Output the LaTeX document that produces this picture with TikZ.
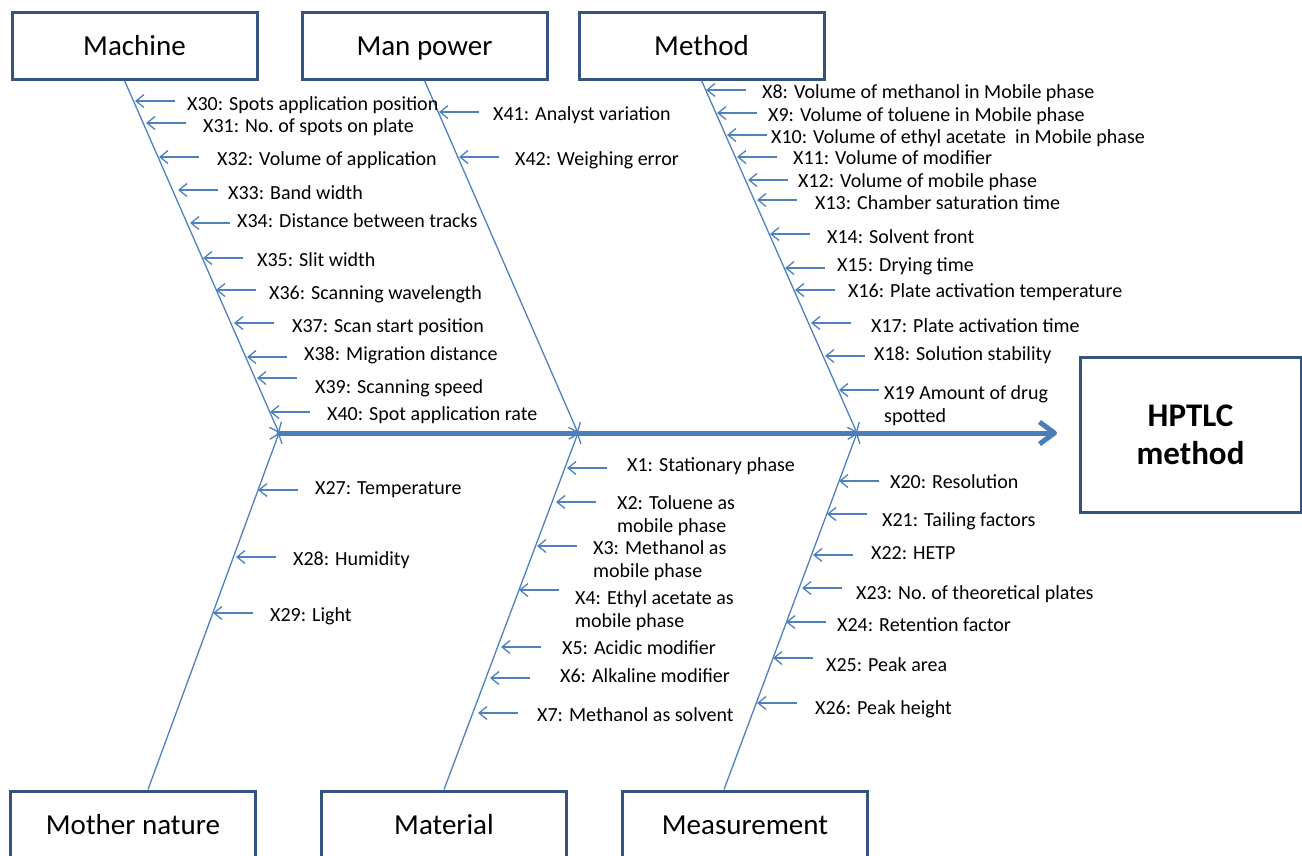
\documentclass[tikz,border=0pt]{standalone}
\usepackage{fontspec}
\setmainfont{Carlito}
\usetikzlibrary{arrows.meta}
\definecolor{bonecol}{HTML}{4F81BD}
\definecolor{spinecol}{HTML}{4A7EBB}
\definecolor{boxline}{HTML}{34547D}

\begin{document}
\begin{tikzpicture}[x=1pt,y=-1pt]
        \tikzset{>={Straight Barb[length=8pt,width=13pt]}}
        \tikzstyle{catbox}=[draw=boxline,line width=3pt,fill=white,minimum width=245pt,minimum height=67pt,inner sep=0pt,text height=20pt,text depth=0pt,font=\fontsize{29}{34}\selectfont]
        \tikzstyle{cause}=[anchor=base west,inner sep=0pt,align=left,font=\fontsize{20}{23}\selectfont]
        \tikzstyle{bone}=[->,draw=bonecol,line width=1.3pt]
        \tikzstyle{leg}=[->,draw=bonecol,line width=1.3pt]

        \path[use as bounding box] (0,0) rectangle (1302,855);
        \clip (0,0) rectangle (1302,855);

        % category boxes
        \node[catbox] (mach) at (134.5,45.5) {Machine};
        \node[catbox] (man) at (424.5,45.5) {Man power};
        \node[catbox] (meth) at (701.5,45.5) {Method};
        \node[catbox] (moth) at (133,824.5) {Mother nature};
        \node[catbox] (mat) at (444,824.5) {Material};
        \node[catbox] (meas) at (745,824.5) {Measurement};
        \node[catbox,minimum width=221pt,minimum height=155pt,text height=,text depth=,align=center,font=\fontsize{33}{38}\selectfont\bfseries] (out) at (1190.5,434.5) {HPTLC\\method};

        % spine
        \coordinate (j1) at (279,433);
        \coordinate (j2) at (578,433);
        \coordinate (j3) at (857,433);
        \coordinate (head) at (1057,433);
        \draw[spinecol,line width=5pt,line cap=round,-{Straight Barb[length=15pt,width=22pt,line join=round]}] (j1) -- (head);

        % bones
        \draw[bone] ([xshift=-10pt]mach.south) -- (j1);
        \draw[bone] (man.south) -- (j2);
        \draw[bone] (meth.south) -- (j3);
        \draw[bone] ([xshift=15pt]moth.north) -- (j1);
        \draw[bone] (mat.north) -- (j2);
        \draw[bone] ([xshift=-21pt]meas.north) -- (j3);

        % machine
        \coordinate (t30) at (135,101);
        \coordinate (t31) at (146,123);
        \coordinate (t32) at (159,157);
        \coordinate (t33) at (178,190);
        \coordinate (t34) at (190,223);
        \coordinate (t35) at (203,258);
        \coordinate (t36) at (216,290);
        \coordinate (t37) at (234,323);
        \coordinate (t38) at (247,357);
        \coordinate (t39) at (257,378);
        \coordinate (t40) at (270,412);
        \node[cause] (x30) at (187,110) {X30: Spots application position};
        \node[cause] (x31) at (203,132) {X31: No.\ of spots on plate};
        \node[cause] (x32) at (217,165) {X32: Volume of application};
        \node[cause] (x33) at (228,199) {X33: Band width};
        \node[cause] (x34) at (237,227) {X34: Distance between tracks};
        \node[cause] (x35) at (257,266) {X35: Slit width};
        \node[cause] (x36) at (269,299) {X36: Scanning wavelength};
        \node[cause] (x37) at (292,332) {X37: Scan start position};
        \node[cause] (x38) at (304,360) {X38: Migration distance};
        \node[cause] (x39) at (315,393) {X39: Scanning speed};
        \node[cause] (x40) at (327,420) {X40: Spot application rate};
        \draw[leg] ([xshift=40pt]t30) -- (t30);
        \draw[leg] ([xshift=40pt]t31) -- (t31);
        \draw[leg] ([xshift=40pt]t32) -- (t32);
        \draw[leg] ([xshift=40pt]t33) -- (t33);
        \draw[leg] ([xshift=40pt]t34) -- (t34);
        \draw[leg] ([xshift=40pt]t35) -- (t35);
        \draw[leg] ([xshift=40pt]t36) -- (t36);
        \draw[leg] ([xshift=40pt]t37) -- (t37);
        \draw[leg] ([xshift=40pt]t38) -- (t38);
        \draw[leg] ([xshift=40pt]t39) -- (t39);
        \draw[leg] ([xshift=40pt]t40) -- (t40);

        % man power
        \coordinate (t41) at (439,112);
        \coordinate (t42) at (459,157);
        \node[cause] (x41) at (493,120) {X41: Analyst variation};
        \node[cause] (x42) at (515,165) {X42: Weighing error};
        \draw[leg] ([xshift=40pt]t41) -- (t41);
        \draw[leg] ([xshift=40pt]t42) -- (t42);

        % method
        \coordinate (t8) at (706,90);
        \coordinate (t9) at (717,113);
        \coordinate (t10) at (727,135);
        \coordinate (t11) at (737,157);
        \coordinate (t12) at (748,180);
        \coordinate (t13) at (757,200);
        \coordinate (t14) at (770,234);
        \coordinate (t15) at (785,268);
        \coordinate (t16) at (795,290);
        \coordinate (t17) at (811,323);
        \coordinate (t18) at (825,356);
        \coordinate (t19) at (839,390);
        \node[cause] (x8) at (762,98) {X8: Volume of methanol in Mobile phase};
        \node[cause] (x9) at (768,121) {X9: Volume of toluene in Mobile phase};
        \node[cause] (x10) at (771,143) {X10: Volume of ethyl acetate \ in Mobile phase};
        \node[cause] (x11) at (793,164) {X11: Volume of modifier};
        \node[cause] (x12) at (798,187) {X12: Volume of mobile phase};
        \node[cause] (x13) at (815,209) {X13: Chamber saturation time};
        \node[cause] (x14) at (827,243) {X14: Solvent front};
        \node[cause] (x15) at (837,271) {X15: Drying time};
        \node[cause] (x16) at (848,297) {X16: Plate activation temperature};
        \node[cause] (x17) at (871,332) {X17: Plate activation time};
        \node[cause] (x18) at (874,360) {X18: Solution stability};
        \node[cause] (x19) at (884,422) {X19 Amount of drug\\spotted};
        \draw[leg] ([xshift=40pt]t8) -- (t8);
        \draw[leg] ([xshift=40pt]t9) -- (t9);
        \draw[leg] ([xshift=40pt]t10) -- (t10);
        \draw[leg] ([xshift=40pt]t11) -- (t11);
        \draw[leg] ([xshift=40pt]t12) -- (t12);
        \draw[leg] ([xshift=40pt]t13) -- (t13);
        \draw[leg] ([xshift=40pt]t14) -- (t14);
        \draw[leg] ([xshift=40pt]t15) -- (t15);
        \draw[leg] ([xshift=40pt]t16) -- (t16);
        \draw[leg] ([xshift=40pt]t17) -- (t17);
        \draw[leg] ([xshift=40pt]t18) -- (t18);
        \draw[leg] ([xshift=40pt]t19) -- (t19);

        % mother nature
        \coordinate (t27) at (258,490);
        \coordinate (t28) at (236,557);
        \coordinate (t29) at (213,613);
        \node[cause] (x27) at (315,494) {X27: Temperature};
        \node[cause] (x28) at (293,565) {X28: Humidity};
        \node[cause] (x29) at (270,621) {X29: Light};
        \draw[leg] ([xshift=40pt]t27) -- (t27);
        \draw[leg] ([xshift=40pt]t28) -- (t28);
        \draw[leg] ([xshift=40pt]t29) -- (t29);

        % material
        \coordinate (t1) at (567,468);
        \coordinate (t2) at (556,502);
        \coordinate (t3) at (537,546);
        \coordinate (t4) at (519,590);
        \coordinate (t5) at (501,647);
        \coordinate (t6) at (490,678);
        \coordinate (t7) at (478,713);
        \node[cause] (x1) at (627,471) {X1: Stationary phase};
        \node[cause] (x2) at (617,532) {X2: Toluene as\\mobile phase};
        \node[cause] (x3) at (593,577) {X3: Methanol as\\mobile phase};
        \node[cause] (x4) at (575,627) {X4: Ethyl acetate as\\mobile phase};
        \node[cause] (x5) at (562,654) {X5: Acidic modifier};
        \node[cause] (x6) at (560,682) {X6: Alkaline modifier};
        \node[cause] (x7) at (537,721) {X7: Methanol as solvent};
        \draw[leg] ([xshift=40pt]t1) -- (t1);
        \draw[leg] ([xshift=40pt]t2) -- (t2);
        \draw[leg] ([xshift=40pt]t3) -- (t3);
        \draw[leg] ([xshift=40pt]t4) -- (t4);
        \draw[leg] ([xshift=40pt]t5) -- (t5);
        \draw[leg] ([xshift=40pt]t6) -- (t6);
        \draw[leg] ([xshift=40pt]t7) -- (t7);

        % measurement
        \coordinate (t20) at (839,481);
        \coordinate (t21) at (827,514);
        \coordinate (t22) at (813,555);
        \coordinate (t23) at (802,588);
        \coordinate (t24) at (786,622);
        \coordinate (t25) at (773,658);
        \coordinate (t26) at (757,703);
        \node[cause] (x20) at (890,488) {X20: Resolution};
        \node[cause] (x21) at (882,526) {X21: Tailing factors};
        \node[cause] (x22) at (871,559) {X22: HETP};
        \node[cause] (x23) at (856,599) {X23: No.\ of theoretical plates};
        \node[cause] (x24) at (837,631) {X24: Retention factor};
        \node[cause] (x25) at (826,671) {X25: Peak area};
        \node[cause] (x26) at (815,714) {X26: Peak height};
        \draw[leg] ([xshift=40pt]t20) -- (t20);
        \draw[leg] ([xshift=40pt]t21) -- (t21);
        \draw[leg] ([xshift=40pt]t22) -- (t22);
        \draw[leg] ([xshift=40pt]t23) -- (t23);
        \draw[leg] ([xshift=40pt]t24) -- (t24);
        \draw[leg] ([xshift=40pt]t25) -- (t25);
        \draw[leg] ([xshift=40pt]t26) -- (t26);
    \end{tikzpicture}
\end{document}
